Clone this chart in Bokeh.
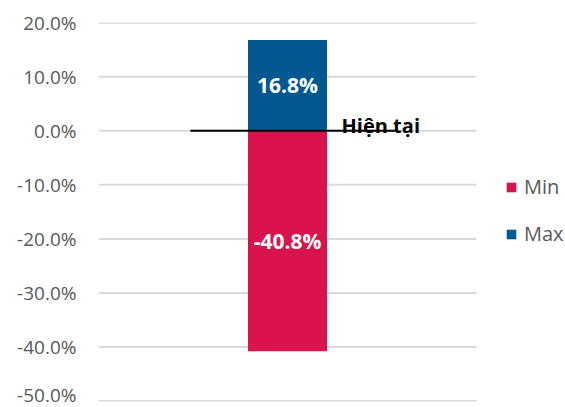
from bokeh.plotting import figure
from bokeh.models import ColumnDataSource, Range1d, Legend, LegendItem, FixedTicker, CustomJSTickFormatter
from bokeh.core.properties import value
from bokeh.embed import file_html
from bokeh.resources import INLINE

# data
series = ["Min", "Max"]
values = [-40.8, 16.8]
colors = ["#D9134B", "#02588F"]
current_label = "Hiện tại"
current_value = 0.0
y_ticks = [-50, -40, -30, -20, -10, 0, 10, 20]

FONT = "Open Sans"

p = figure(width=565, height=407, output_backend="svg", toolbar_location=None,
           x_axis_location=None,
           x_range=Range1d(0, 467 / 378), y_range=Range1d(-50.1, 20.05),
           min_border_left=98, min_border_right=0, min_border_top=22, min_border_bottom=6)
p.outline_line_color = None
p.background_fill_color = "white"
p.xgrid.visible = False
p.ygrid.visible = False

# gridlines spanning the plotting area only (legend sits to the right)
p.segment(x0=[0] * len(y_ticks), x1=[1] * len(y_ticks), y0=y_ticks, y1=y_ticks,
          line_color="#D9D9D9", line_width=2)

ya = p.yaxis[0]
ya.ticker = FixedTicker(ticks=y_ticks)
ya.formatter = CustomJSTickFormatter(code="return tick.toFixed(1) + '%';")
ya.axis_line_color = None
ya.major_tick_line_color = None
ya.minor_tick_line_color = None
ya.major_tick_out = 0
ya.major_label_standoff = 22
ya.major_label_text_font = FONT
ya.major_label_text_font_size = "19px"
ya.major_label_text_color = "#595959"

bar_x = 0.5
bar_w = 0.209
renderers = []
for name, v, c in zip(series, values, colors):
    src = ColumnDataSource(dict(x=[bar_x], top=[max(v, 0)], bottom=[min(v, 0)],
                                ly=[v / 2], lab=[f"{v:.1f}%"]))
    r = p.vbar(x="x", top="top", bottom="bottom", width=bar_w, source=src,
               fill_color=c, line_color=None)
    renderers.append(r)
    p.text(x="x", y="ly", text="lab", source=src, text_color="white",
           text_font=value(FONT), text_font_style="bold", text_font_size="21px",
           text_align="center", text_baseline="middle")

# current marker line
line_x0, line_x1 = 0.243, 0.788
p.segment(x0=[line_x0], x1=[line_x1], y0=[current_value], y1=[current_value],
          line_color="black", line_width=2)
p.text(x=[0.643], y=[current_value], text=[current_label], text_color="black",
       text_font=value(FONT), text_font_style="bold", text_font_size="20px",
       text_align="left", text_baseline="alphabetic", y_offset=-5)

legend = Legend(items=[LegendItem(label=n, renderers=[r]) for n, r in zip(series, renderers)],
                location=(407, 154), orientation="vertical",
                glyph_width=12, glyph_height=12, spacing=20, padding=0, margin=0,
                label_text_font=FONT, label_text_font_size="20px",
                label_text_color="#595959", label_standoff=7,
                border_line_color=None, background_fill_alpha=0)
p.add_layout(legend, "center")

open("out.html", "w").write(file_html(p, INLINE))
